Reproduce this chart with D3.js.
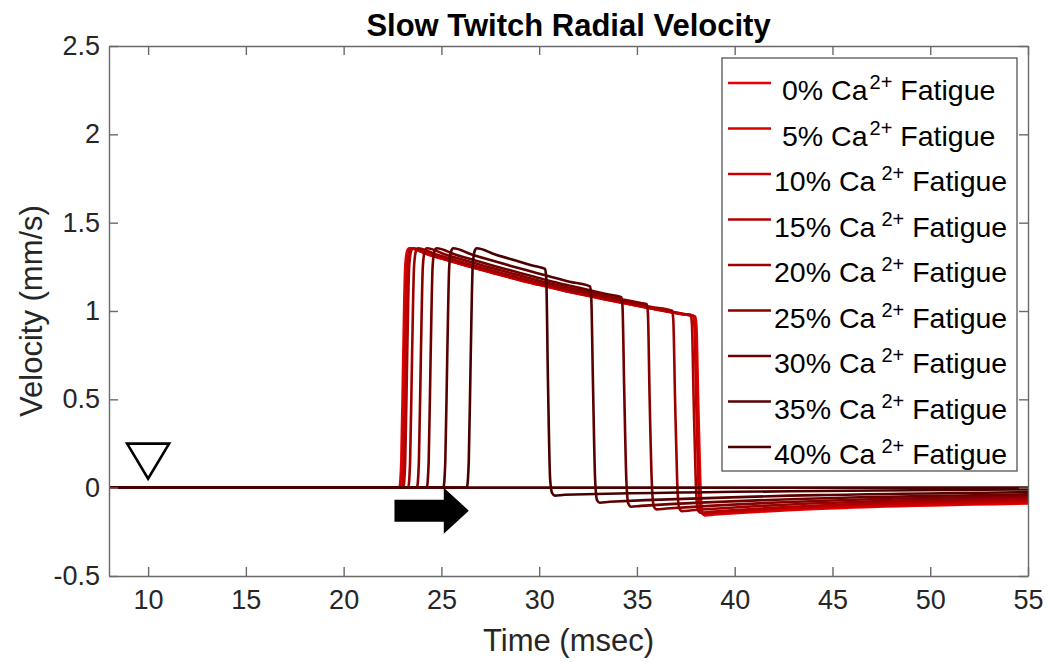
<!DOCTYPE html>
<html>
<head>
<meta charset="utf-8">
<script src="https://cdn.jsdelivr.net/npm/d3@7"></script>
<style>
  html, body { margin: 0; padding: 0; background: #ffffff; }
  svg { display: block; font-family: "Liberation Sans", Arial, sans-serif; }
</style>
</head>
<body>
<svg id="chart" width="1049" height="662"></svg>
<script>
// Fatigue levels (% Ca2+ release fatigue) and their line colours
const fatigueLevels = [0, 5, 10, 15, 20, 25, 30, 35, 40];
const seriesColors = ["#e60000", "#d60000", "#c40000", "#b20000", "#9c0000", "#860000", "#6e0000", "#5a0000", "#480000"];

// Radial velocity traces: [time (msec), velocity (mm/s)]
const ca0 = [[8,0],[22.85,0],[22.95,0.15],[23.05,0.75],[23.15,1.25],[23.25,1.34],[23.35,1.355],[24.3,1.32],[25.3,1.287],[26.3,1.255],[27.3,1.225],[28.3,1.195],[29.3,1.166],[30.3,1.14],[31.3,1.114],[32.3,1.09],[33.3,1.067],[34.3,1.045],[35.3,1.023],[36.3,1.002],[37.3,0.982],[37.98,0.969],[38.04,0.92],[38.13,0.5],[38.24,0.03],[38.34,-0.14],[38.48,-0.157],[38.98,-0.152],[55,-0.09]];
const ca5 = [[8,0],[22.9,0],[23.0,0.15],[23.1,0.75],[23.2,1.25],[23.3,1.34],[23.4,1.355],[24.35,1.32],[25.35,1.287],[26.35,1.255],[27.35,1.225],[28.35,1.195],[29.35,1.166],[30.35,1.14],[31.35,1.114],[32.35,1.09],[33.35,1.067],[34.35,1.045],[35.35,1.023],[36.35,1.002],[37.35,0.982],[37.93,0.971],[37.99,0.92],[38.08,0.5],[38.19,0.03],[38.29,-0.135],[38.43,-0.152],[38.93,-0.147],[55,-0.082]];
const ca10 = [[8,0],[22.95,0],[23.05,0.15],[23.15,0.75],[23.25,1.25],[23.35,1.34],[23.45,1.355],[24.4,1.32],[25.4,1.287],[26.4,1.255],[27.4,1.225],[28.4,1.195],[29.4,1.166],[30.4,1.14],[31.4,1.114],[32.4,1.09],[33.4,1.067],[34.4,1.045],[35.4,1.023],[36.4,1.002],[37.4,0.982],[37.88,0.973],[37.94,0.92],[38.03,0.5],[38.14,0.03],[38.24,-0.13],[38.38,-0.147],[38.88,-0.142],[55,-0.075]];
const ca15 = [[8,0],[23.05,0],[23.15,0.15],[23.25,0.75],[23.35,1.25],[23.45,1.34],[23.55,1.355],[24.5,1.32],[25.5,1.287],[26.5,1.255],[27.5,1.225],[28.5,1.195],[29.5,1.166],[30.5,1.14],[31.5,1.114],[32.5,1.09],[33.5,1.067],[34.5,1.045],[35.5,1.023],[36.5,1.002],[37.5,0.982],[37.75,0.977],[37.81,0.93],[37.9,0.5],[38.01,0.03],[38.11,-0.125],[38.25,-0.142],[38.75,-0.137],[55,-0.068]];
const ca20 = [[8,0],[23.3,0],[23.4,0.15],[23.5,0.75],[23.6,1.25],[23.7,1.34],[23.8,1.355],[24.75,1.32],[25.75,1.287],[26.75,1.255],[27.75,1.225],[28.75,1.195],[29.75,1.166],[30.75,1.14],[31.75,1.114],[32.75,1.09],[33.75,1.067],[34.75,1.045],[35.75,1.023],[36.8,1.001],[36.86,0.95],[36.95,0.5],[37.06,0.03],[37.16,-0.115],[37.3,-0.133],[37.8,-0.128],[55,-0.058]];
const ca25 = [[8,0],[23.75,0],[23.85,0.15],[23.95,0.75],[24.05,1.25],[24.15,1.34],[24.25,1.355],[25.2,1.32],[26.2,1.287],[27.2,1.255],[28.2,1.225],[29.2,1.195],[30.2,1.166],[31.2,1.14],[32.2,1.114],[33.2,1.09],[34.2,1.067],[35.2,1.045],[35.5,1.038],[35.56,0.99],[35.65,0.5],[35.76,0.03],[35.86,-0.105],[36.0,-0.123],[36.5,-0.118],[55,-0.048]];
const ca30 = [[8,0],[24.25,0],[24.35,0.15],[24.45,0.75],[24.55,1.25],[24.65,1.34],[24.75,1.355],[25.7,1.32],[26.7,1.287],[27.7,1.255],[28.7,1.225],[29.7,1.195],[30.7,1.166],[31.7,1.14],[32.7,1.114],[33.7,1.09],[34.2,1.078],[34.26,1.03],[34.35,0.55],[34.46,0.04],[34.56,-0.09],[34.7,-0.108],[35.2,-0.103],[55,-0.038]];
const ca35 = [[8,0],[25.1,0],[25.2,0.15],[25.3,0.75],[25.4,1.25],[25.5,1.34],[25.6,1.355],[26.55,1.32],[27.55,1.287],[28.55,1.255],[29.55,1.225],[30.55,1.195],[31.55,1.166],[32.6,1.139],[32.66,1.09],[32.75,0.6],[32.86,0.05],[32.96,-0.07],[33.1,-0.085],[33.6,-0.08],[55,-0.025]];
const ca40 = [[8,0],[26.3,0],[26.4,0.15],[26.5,0.75],[26.6,1.25],[26.7,1.34],[26.8,1.355],[27.75,1.32],[28.75,1.287],[29.75,1.255],[30.3,1.239],[30.36,1.19],[30.45,0.6],[30.56,0.05],[30.66,-0.03],[30.8,-0.045],[31.3,-0.04],[55,-0.01]];
const traces = [ca0, ca5, ca10, ca15, ca20, ca25, ca30, ca35, ca40];

// Axes
const xDomain = [8, 55];
const yDomain = [-0.5, 2.5];
const xTicks = [10, 15, 20, 25, 30, 35, 40, 45, 50, 55];
const yTicks = [-0.5, 0, 0.5, 1, 1.5, 2, 2.5];
const yTickLabels = ["-0.5", "0", "0.5", "1", "1.5", "2", "2.5"];

// Annotations: stimulus marker time, and shift arrow (start, end, level)
const stimulusTimes = [10];
const shiftArrow = { from: 22.6, to: 26.4, level: -0.13 };

const svg = d3.select("#chart");
const plotLeft = 109, plotRight = 1028, plotTop = 46, plotBottom = 576;

const x = d3.scaleLinear().domain(xDomain).range([plotLeft, plotRight]);
const y = d3.scaleLinear().domain(yDomain).range([plotBottom, plotTop]);

const axisColor = "#6a6a6a";
const labelColor = "#262626";

// Plot area clip
svg.append("defs").append("clipPath").attr("id", "plotClip")
  .append("rect").attr("x", plotLeft).attr("y", plotTop)
  .attr("width", plotRight - plotLeft).attr("height", plotBottom - plotTop);

// Traces
const line = d3.line()
  .x(d => x(d[0]))
  .y(d => y(d[1]))
  .curve(d3.curveMonotoneX);

const plot = svg.append("g").attr("clip-path", "url(#plotClip)");
plot.selectAll("path.trace")
  .data(traces)
  .join("path")
  .attr("class", "trace")
  .attr("d", line)
  .attr("fill", "none")
  .attr("stroke", (d, i) => seriesColors[i])
  .attr("stroke-width", 2.6)
  .attr("stroke-linejoin", "round");

// Resting (zero) line
plot.append("line")
  .attr("x1", x(xDomain[0])).attr("x2", x(xDomain[1]))
  .attr("y1", y(0)).attr("y2", y(0))
  .attr("stroke", "#480000").attr("stroke-width", 2.8);

// Axes with inward ticks on all four sides
function styleAxis(g) {
  g.selectAll("path.domain").attr("stroke", axisColor).attr("stroke-width", 1.4);
  g.selectAll(".tick line").attr("stroke", axisColor).attr("stroke-width", 1.4);
  g.selectAll(".tick text").attr("fill", labelColor).attr("font-size", 27)
    .attr("font-family", "'Liberation Sans', Arial, sans-serif");
}

svg.append("g").attr("transform", `translate(0,${plotBottom})`)
  .call(d3.axisBottom(x).tickValues(xTicks).tickSizeInner(-9).tickSizeOuter(0).tickPadding(14))
  .call(styleAxis);
svg.append("g").attr("transform", `translate(0,${plotTop})`)
  .call(d3.axisTop(x).tickValues(xTicks).tickSizeInner(-9).tickSizeOuter(0).tickFormat(""))
  .call(styleAxis);
svg.append("g").attr("transform", `translate(${plotLeft},0)`)
  .call(d3.axisLeft(y).tickValues(yTicks).tickSizeInner(-9).tickSizeOuter(0).tickPadding(9)
    .tickFormat((d, i) => yTickLabels[i]))
  .call(styleAxis);
svg.append("g").attr("transform", `translate(${plotRight},0)`)
  .call(d3.axisRight(y).tickValues(yTicks).tickSizeInner(-9).tickSizeOuter(0).tickFormat(""))
  .call(styleAxis);

// Title and axis labels
svg.append("text")
  .attr("x", (plotLeft + plotRight) / 2).attr("y", 36)
  .attr("text-anchor", "middle").attr("font-size", 31).attr("font-weight", "bold").attr("fill", "#000")
  .text("Slow Twitch Radial Velocity");
svg.append("text")
  .attr("x", (plotLeft + plotRight) / 2).attr("y", 651)
  .attr("text-anchor", "middle").attr("font-size", 31).attr("fill", labelColor)
  .text("Time (msec)");
svg.append("text")
  .attr("transform", `translate(42,${(plotTop + plotBottom) / 2}) rotate(-90)`)
  .attr("text-anchor", "middle").attr("font-size", 31).attr("fill", labelColor)
  .text("Velocity (mm/s)");

// Stimulus marker (open downward triangle above the trace)
svg.selectAll("path.stim")
  .data(stimulusTimes)
  .join("path")
  .attr("class", "stim")
  .attr("d", t => {
    const cx = x(t), tip = y(0) - 9;
    return `M${cx - 21},${tip - 35} L${cx + 21},${tip - 35} L${cx},${tip} Z`;
  })
  .attr("fill", "none").attr("stroke", "#000").attr("stroke-width", 2.6).attr("stroke-linejoin", "miter");

// Shift arrow
{
  const x0 = x(shiftArrow.from), x1 = x(shiftArrow.to), yc = y(shiftArrow.level);
  const headLen = 25, bodyHalf = 11, headHalf = 23;
  svg.append("path")
    .attr("d", `M${x0},${yc - bodyHalf} L${x1 - headLen},${yc - bodyHalf} L${x1 - headLen},${yc - headHalf} L${x1},${yc} L${x1 - headLen},${yc + headHalf} L${x1 - headLen},${yc + bodyHalf} L${x0},${yc + bodyHalf} Z`)
    .attr("fill", "#000");
}

// Legend
const legend = svg.append("g");
const legLeft = 722, legTop = 58, legW = 295, rowH = 45.5, firstRow = 83;
legend.append("rect")
  .attr("x", legLeft).attr("y", legTop).attr("width", legW).attr("height", 413)
  .attr("fill", "#fff").attr("stroke", "#555").attr("stroke-width", 1.3);

const rows = legend.selectAll("g.row")
  .data(fatigueLevels)
  .join("g")
  .attr("class", "row")
  .attr("transform", (d, i) => `translate(0,${firstRow + i * rowH})`);

rows.append("line")
  .attr("x1", 728).attr("x2", 771).attr("y1", 0).attr("y2", 0)
  .attr("stroke", (d, i) => seriesColors[i]).attr("stroke-width", 2.6);

const label = rows.append("text")
  .attr("x", d => d < 10 ? 782 : 774)
  .attr("y", 17)
  .attr("font-size", 28.5)
  .attr("fill", "#000");
label.append("tspan").text(d => `${d}% Ca`);
label.append("tspan")
  .attr("dx", d => d < 10 ? 2 : 6)
  .attr("dy", -11).attr("font-size", 20).text("2+");
label.append("tspan")
  .attr("dy", 11).text(" Fatigue");
</script>
</body>
</html>
